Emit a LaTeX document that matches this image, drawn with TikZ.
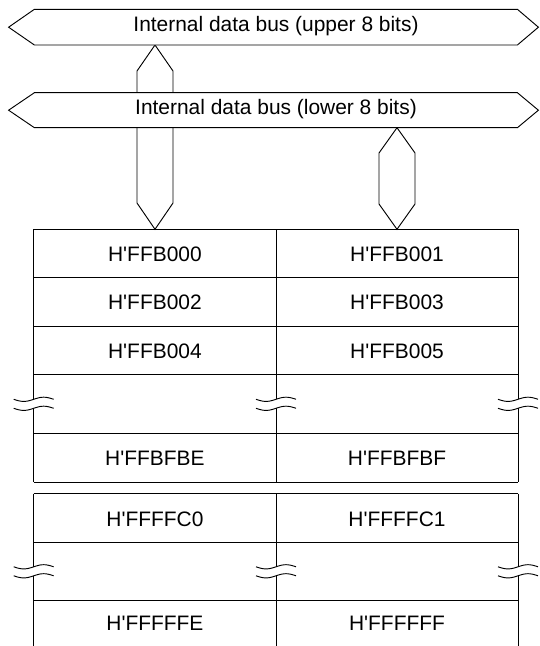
\documentclass[tikz,border=0pt]{standalone}
\usepackage{fontspec}
\setmainfont{Liberation Sans}
\newcommand{\qs}{\textquotesingle}
\begin{document}
\begin{tikzpicture}[x=0.75pt,y=-0.75pt,
  ln/.style={draw=black, line width=0.7pt, line join=miter},
  busshape/.style={ln, fill=white},
  buslabel/.style={font=\fontsize{15.7}{18}\selectfont, anchor=base, inner sep=0pt},
  celltext/.style={font=\fontsize{15.7}{18}\selectfont, inner sep=0pt}]
\useasboundingbox (0,0) rectangle (539,646);

% end points of the vertical bus arrows
\coordinate (la-top) at (155,45);
\coordinate (la-bot) at (155,229.3);
\coordinate (ra-top) at (397,127.7);
\coordinate (ra-bot) at (397,229.3);

% vertical double arrows (drawn first, the buses cover them)
\draw[busshape] (la-top) -- (173,71) -- (173,203) -- (la-bot) -- (137,203) -- (137,71) -- cycle;
\draw[busshape] (ra-top) -- (415,153) -- (415,204) -- (ra-bot) -- (379,204) -- (379,153) -- cycle;

% buses
\draw[busshape] (8.6,27.2) -- (34.4,9.3) -- (517.4,9.3) -- (538.4,27.2) -- (517.4,45) -- (34.4,45) -- cycle;
\node[buslabel] (ub) at (276,31.8) {Internal data bus (upper 8 bits)};
\draw[busshape] (8.6,110.2) -- (34.4,92.7) -- (517.4,92.7) -- (538.4,110.2) -- (517.4,127.7) -- (34.4,127.7) -- cycle;
\node[buslabel] (lb) at (276,114.8) {Internal data bus (lower 8 bits)};

% table 1
\foreach \yy in {229.3,277.5,326,374.7,433,482}
  \draw[ln] (33.7,\yy) -- (518,\yy);
\foreach \xx in {33.7,276,518}{
  \draw[ln] (\xx,229.3) -- (\xx,399.3);
  \draw[ln] (\xx,408.3) -- (\xx,482);
}
% table 2
\foreach \yy in {493.7,542.3,600.3}
  \draw[ln] (33.7,\yy) -- (518,\yy);
\foreach \xx in {33.7,276,518}{
  \draw[ln] (\xx,493.7) -- (\xx,566.8);
  \draw[ln] (\xx,575.8) -- (\xx,646);
}
% break marks
\foreach \cx in {33.7,276,518}{
  \foreach \wy in {399.3,408.3,566.8,575.8}
    \draw[ln] plot[domain=-20:20,samples=41,smooth] ({\cx+\x},{\wy-2.1*sin(9*\x)});
}

% cell texts
\node[celltext] (a0) at (154.9,254.4) {H\qs FFB000};
\node[celltext] (a1) at (397,254.4) {H\qs FFB001};
\node[celltext] (a2) at (154.9,302.7) {H\qs FFB002};
\node[celltext] (a3) at (397,302.7) {H\qs FFB003};
\node[celltext] (a4) at (154.9,351.3) {H\qs FFB004};
\node[celltext] (a5) at (397,351.3) {H\qs FFB005};
\node[celltext] (ae) at (154.9,458.5) {H\qs FFBFBE};
\node[celltext] (af) at (397,458.5) {H\qs FFBFBF};
\node[celltext] (b0) at (154.9,519) {H\qs FFFFC0};
\node[celltext] (b1) at (397,519) {H\qs FFFFC1};
\node[celltext] (be) at (154.9,623.5) {H\qs FFFFFE};
\node[celltext] (bf) at (397,623.5) {H\qs FFFFFF};
\end{tikzpicture}
\end{document}
